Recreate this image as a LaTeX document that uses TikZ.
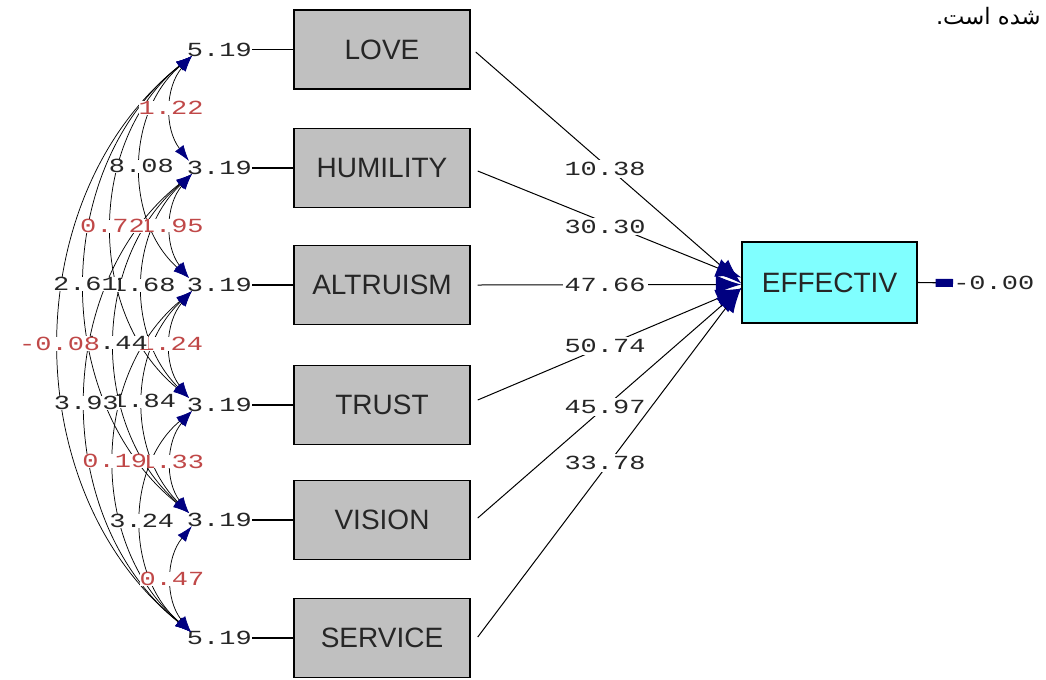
\documentclass[tikz,border=0pt]{standalone}
\usepackage{fontspec}
\setmainfont{Liberation Sans}
\newfontfamily\lmono[FakeStretch=1.35]{Liberation Mono}
\newfontfamily\arabicfont[Script=Arabic]{DejaVu Sans}
\TeXXeTstate=1
\usetikzlibrary{arrows.meta,calc}
\definecolor{boxgray}{HTML}{C0C0C0}
\definecolor{effcyan}{HTML}{80FFFF}
\definecolor{tipnavy}{HTML}{000080}
\definecolor{tred}{HTML}{C04848}
\begin{document}
\begin{tikzpicture}[x=0.75pt,y=-0.75pt,
  var/.style={draw=black, line width=1.1pt, fill=boxgray, minimum width=132pt, minimum height=59.25pt, inner sep=0pt, font=\fontsize{21}{21}\selectfont, text=black!85},
  dep/.style={var, fill=effcyan, minimum width=131.25pt, minimum height=60.75pt},
  vlab/.style={font=\lmono\fontsize{15}{15}\selectfont, inner sep=0pt, text=black!85},
  clab/.style={vlab, fill=white, inner sep=0pt},
  nsig/.style={text=tred},
  plab/.style={vlab, fill=white, inner sep=1.5pt},
  cov/.style={line width=0.55pt, {Latex[length=12pt,width=8pt,color=tipnavy]}-{Latex[length=12pt,width=8pt,color=tipnavy]}},
  struct/.style={line width=0.75pt, -{Latex[length=19pt,width=14pt,color=tipnavy]}},
  ind/.style={line width=0.8pt}
]
\useasboundingbox (0,0) rectangle (1046,679);
\fill[white] (0,0) rectangle (1046,679);

% Persian text (top right)
\node[anchor=base east, inner sep=0pt, font=\arabicfont\fontsize{17}{17}\selectfont] (fa) at (1041,24) {\beginR شده است.\endR};

% observed variables
\node[var] (love) at (382,49.5) {LOVE};
\node[var] (hum)  at (382,168) {HUMILITY};
\node[var] (alt)  at (382,285) {ALTRUISM};
\node[var] (tru)  at (382,405) {TRUST};
\node[var] (vis)  at (382,520) {VISION};
\node[var] (ser)  at (382,638) {SERVICE};
\node[dep] (eff)  at (829.5,282.5) {EFFECTIV};

% variance labels
\node[vlab, anchor=east] (vlove) at (252,49.5) {5.19};
\node[vlab, anchor=east] (vhum)  at (252,168) {3.19};
\node[vlab, anchor=east] (valt)  at (252,285) {3.19};
\node[vlab, anchor=east] (vtru)  at (252,405) {3.19};
\node[vlab, anchor=east] (vvis)  at (252,520) {3.19};
\node[vlab, anchor=east] (vser)  at (252,638) {5.19};
\foreach \a/\b in {vlove/love,vhum/hum,valt/alt,vtru/tru,vvis/vis,vser/ser}
  \draw[ind] (\a) -- (\b);

% covariance end points
\coordinate (lo1) at (192,56);
\coordinate (hi2) at (189,161); \coordinate (lo2) at (192,174);
\coordinate (hi3) at (189,278); \coordinate (lo3) at (192,291);
\coordinate (hi4) at (189,398); \coordinate (lo4) at (192,411);
\coordinate (hi5) at (189,513); \coordinate (lo5) at (192,526);
\coordinate (hi6) at (191,632);

% covariance curves
\draw[cov] (lo1) to[bend right=51.5] coordinate[midway] (m16) (hi6);
\draw[cov] (lo1) to[bend right=51.5] coordinate[midway] (m15) (hi5);
\draw[cov] (lo2) to[bend right=51.5] coordinate[midway] (m26) (hi6);
\draw[cov] (lo1) to[bend right=51] coordinate[midway] (m14) (hi4);
\draw[cov] (lo2) to[bend right=49] coordinate[midway] (m25) (hi5);
\draw[cov] (lo3) to[bend right=50] coordinate[midway] (m36) (hi6);
\draw[cov] (lo1) to[bend right=49] coordinate[midway] (m13) (hi3);
\draw[cov] (lo2) to[bend right=46] coordinate[midway] (m24) (hi4);
\draw[cov] (lo3) to[bend right=46] coordinate[midway] (m35) (hi5);
\draw[cov] (lo4) to[bend right=50] coordinate[midway] (m46) (hi6);
\draw[cov] (lo1) to[bend right=39] coordinate[midway] (m12) (hi2);
\draw[cov] (lo2) to[bend right=39] coordinate[midway] (m23) (hi3);
\draw[cov] (lo3) to[bend right=39] coordinate[midway] (m34) (hi4);
\draw[cov] (lo4) to[bend right=39] coordinate[midway] (m45) (hi5);
\draw[cov] (lo5) to[bend right=39] coordinate[midway] (m56) (hi6);

% covariance labels (nearest pairs first, widest arcs on top)
\node[clab, nsig] (l12) at (m12) {1.22};
\node[clab, nsig] (l23) at (m23) {1.95};
\node[clab, nsig] (l34) at (m34) {1.24};
\node[clab, nsig] (l45) at (m45) {1.33};
\node[clab, nsig] (l56) at (m56) {0.47};
\node[clab] (l13) at (m13) {8.08};
\node[clab] (l24) at (m24) {1.68};
\node[clab] (l35) at (m35) {1.84};
\node[clab] (l46) at (m46) {3.24};
\node[clab, nsig] (l14) at (m14) {0.72};
\node[clab] (l25) at (m25) {1.44};
\node[clab, nsig] (l36) at (m36) {0.19};
\node[clab] (l15) at (m15) {2.61};
\node[clab] (l26) at (m26) {3.93};
\node[clab, nsig] (l16) at (m16) {-0.08};

% structural paths
\draw[struct] ($(love.east)+(5,2.5)$) -- node[plab, pos=0.487, yshift=-3pt] (p1) {10.38} ($(eff.west)+(0,1)$);
\draw[struct] ($(hum.east)+(7,3)$) -- node[plab, pos=0.483, yshift=-3pt] (p2) {30.30} ($(eff.west)+(0,-5)$);
\draw[struct] ($(alt.east)+(7,0)$) -- node[plab, pos=0.483] (p3) {47.66} ($(eff.west)+(0,2)$);
\draw[struct] ($(tru.east)+(7,-5)$) -- node[plab, pos=0.483] (p4) {50.74} ($(eff.west)+(0,6)$);
\draw[struct] ($(vis.east)+(7,-2)$) -- node[plab, pos=0.483] (p5) {45.97} ($(eff.west)+(0,6)$);
\draw[struct] ($(ser.east)+(7,-1)$) -- node[plab, pos=0.483, yshift=4pt] (p6) {33.78} ($(eff.west)+(0,5)$);

% error term
\node[vlab, anchor=west] (err) at (953,283) {-0.00};
\draw[line width=0.8pt, {Rectangle[length=13pt,width=6pt,color=tipnavy]}-] (err.west) -- (eff.east);
\end{tikzpicture}
\end{document}
